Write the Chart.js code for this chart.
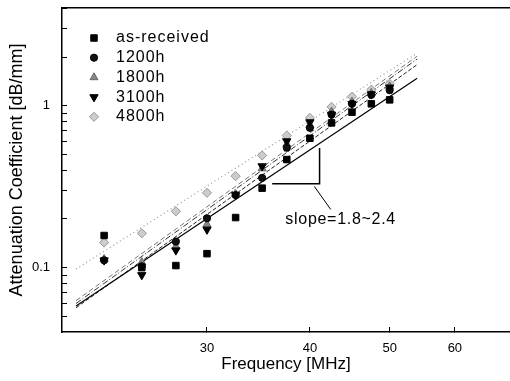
<!DOCTYPE html>
<html>
<head>
<title>Attenuation Coefficient vs Frequency</title>
<script src="https://cdn.jsdelivr.net/npm/chart.js"></script>
<style>
  body { margin: 0; background: #fff; }
</style>
</head>
<body>
<canvas id="chart" width="510" height="381"></canvas>
<script>
// measured frequencies [MHz]
const freq = [22.5, 25, 27.5, 30, 32.5, 35, 37.5, 40, 42.5, 45, 47.5, 50];

// attenuation coefficient [dB/mm] per ageing time
const asReceived = [0.158, 0.100, 0.103, 0.122, 0.204, 0.310, 0.466, 0.631, 0.785, 0.914, 1.03, 1.09];
const h1200 = [0.111, 0.102, 0.145, 0.202, 0.281, 0.359, 0.551, 0.732, 0.884, 1.03, 1.17, 1.25];
const h1800 = [0.113, 0.108, 0.135, 0.185, 0.285, 0.410, 0.580, 0.760, 0.920, 1.06, 1.20, 1.32];
const h3100 = [0.111, 0.090, 0.128, 0.172, 0.281, 0.424, 0.605, 0.793, 0.884, 1.03, 1.18, 1.30];
const h4800 = [0.143, 0.163, 0.223, 0.290, 0.368, 0.494, 0.656, 0.843, 0.986, 1.14, 1.26, 1.37];

// power-law fit lines (end points)
const fitX = [20.8, 54];
const fitAsReceived = [0.058, 1.48];
const fit1200 = [0.0565, 1.80];
const fit1800 = [0.0625, 2.03];
const fit3100 = [0.060, 1.95];
const fit4800 = [0.098, 2.12];

const seriesNames = ['as-received', '1200h', '1800h', '3100h', '4800h'];

// axis ticks
const xTicks = [30, 40, 50, 60];
const yTicks = [0.05, 0.06, 0.07, 0.08, 0.09, 0.1, 0.2, 0.3, 0.4, 0.5, 0.6, 0.7, 0.8, 0.9, 1, 2, 3, 4];
const yLabelled = [0.1, 1];

// slope annotation (data coordinates)
const slopeTriangle = [[36, 0.33], [41.1, 0.33], [41.1, 0.55]];
const slopePointer = [[40.5, 0.318], [42.4, 0.229]];
const slopeText = { x: 37.35, y: 0.198, text: 'slope=1.8~2.4' };

const pts = (ys) => freq.map((f, i) => ({ x: f, y: ys[i] }));
const fitPts = (ys) => fitX.map((f, i) => ({ x: f, y: ys[i] }));

const markers = [
  { style: 'rect', radius: 4.6, fill: '#000', border: '#000', rotation: 0 },
  { style: 'circle', radius: 3.6, fill: '#111', border: '#000', rotation: 0 },
  { style: 'triangle', radius: 4.6, fill: '#888', border: '#666', rotation: 0 },
  { style: 'triangle', radius: 4.8, fill: '#000', border: '#000', rotation: 180 },
  { style: 'rectRot', radius: 4.6, fill: '#ccc', border: '#999', rotation: 0 }
];

function scatterSet(name, ys, m, order) {
  return {
    type: 'scatter', label: name, data: pts(ys),
    pointStyle: m.style, pointRadius: m.radius, pointRotation: m.rotation,
    backgroundColor: m.fill, borderColor: m.border, borderWidth: 1, order: order
  };
}

function fitSet(ys, color, dash, width) {
  return {
    type: 'line', label: 'fit', data: fitPts(ys),
    borderColor: color, borderWidth: width, borderDash: dash,
    pointRadius: 0, fill: false, order: 10
  };
}

// no extra padding around the plot for tick labels
function noPad(s) {
  s.paddingTop = 0; s.paddingBottom = 0; s.paddingLeft = 0; s.paddingRight = 0;
}

// legend drawn inside the plot, top-left
const innerLegend = {
  id: 'innerLegend',
  afterDraw(chart) {
    const ctx = chart.ctx;
    const area = chart.chartArea;
    ctx.save();
    ctx.font = '16px "Liberation Sans", Arial, sans-serif';
    ctx.letterSpacing = '1px';
    ctx.textBaseline = 'middle';
    seriesNames.forEach((name, i) => {
      const y = area.top + 30 + i * 19.7;
      const m = markers[i];
      ctx.fillStyle = m.fill;
      ctx.strokeStyle = m.border;
      ctx.lineWidth = 1;
      Chart.helpers.drawPoint(ctx, { pointStyle: m.style, radius: m.radius, rotation: m.rotation, borderWidth: 1 }, area.left + 32, y);
      ctx.fillStyle = '#000';
      ctx.fillText(name, area.left + 54, y);
    });
    ctx.restore();
  }
};

// slope triangle + label
const slopeNote = {
  id: 'slopeNote',
  afterDatasetsDraw(chart) {
    const ctx = chart.ctx;
    const xs = chart.scales.x, ys = chart.scales.y;
    const px = p => [xs.getPixelForValue(p[0]), ys.getPixelForValue(p[1])];
    ctx.save();
    ctx.strokeStyle = '#000';
    ctx.lineWidth = 1.5;
    ctx.beginPath();
    slopeTriangle.forEach((p, i) => {
      const [x, y] = px(p);
      if (i === 0) ctx.moveTo(x, y); else ctx.lineTo(x, y);
    });
    ctx.stroke();
    ctx.lineWidth = 1;
    ctx.beginPath();
    const a = px(slopePointer[0]), b = px(slopePointer[1]);
    ctx.moveTo(a[0], a[1]);
    ctx.lineTo(b[0], b[1]);
    ctx.stroke();
    ctx.font = '16px "Liberation Sans", Arial, sans-serif';
    ctx.letterSpacing = '0.7px';
    ctx.textBaseline = 'middle';
    ctx.fillStyle = '#000';
    const t = px([slopeText.x, slopeText.y]);
    ctx.fillText(slopeText.text, t[0], t[1]);
    ctx.restore();
  }
};

Chart.defaults.font.family = '"Liberation Sans", Arial, sans-serif';
Chart.defaults.color = '#000';

const ctx = document.getElementById('chart').getContext('2d');
const chart = new Chart(ctx, {
  data: {
    datasets: [
      scatterSet(seriesNames[4], h4800, markers[4], 6),
      scatterSet(seriesNames[2], h1800, markers[2], 5),
      scatterSet(seriesNames[1], h1200, markers[1], 4),
      scatterSet(seriesNames[3], h3100, markers[3], 3),
      scatterSet(seriesNames[0], asReceived, markers[0], 2),
      fitSet(fitAsReceived, '#000', [], 1.2),
      fitSet(fit1200, '#222', [4, 2], 1),
      fitSet(fit1800, '#777', [5, 3], 1),
      fitSet(fit3100, '#333', [6, 2, 1, 2], 1),
      fitSet(fit4800, '#999', [1, 3], 1.2)
    ]
  },
  options: {
    responsive: false,
    animation: false,
    layout: { padding: 0, autoPadding: false },
    plugins: {
      legend: { display: false },
      tooltip: { enabled: false }
    },
    scales: {
      x: {
        type: 'logarithmic', position: 'bottom', min: 20, max: 70,
        afterBuildTicks: s => { s.ticks = xTicks.map(v => ({ value: v })); },
        afterFit: s => { s.height = 49; noPad(s); },
        ticks: { font: { size: 13 }, padding: 14, autoSkip: false, maxRotation: 0,
                 callback: v => String(v) },
        grid: { drawOnChartArea: false, tickLength: -5, color: '#000', tickWidth: 1 },
        border: { color: '#000', width: 1.5 },
        title: { display: true, text: 'Frequency [MHz]', font: { size: 17 }, padding: { top: 4, bottom: 6 } }
      },
      xTop: {
        type: 'logarithmic', position: 'top', min: 20, max: 70,
        afterFit: s => { s.height = 8; noPad(s); },
        ticks: { display: false },
        grid: { display: false },
        border: { display: true, color: '#000', width: 1.5 }
      },
      y: {
        type: 'logarithmic', position: 'left', min: 0.04, max: 4.03,
        afterBuildTicks: s => { s.ticks = yTicks.map(v => ({ value: v })); },
        afterFit: s => { s.width = 62; noPad(s); },
        ticks: { font: { size: 13 }, padding: 17, autoSkip: false,
                 callback: v => yLabelled.includes(v) ? String(v) : '' },
        grid: { drawOnChartArea: false, tickLength: -5, color: '#000', tickWidth: 1 },
        border: { color: '#000', width: 1.5 },
        title: { display: true, text: 'Attenuation Coefficient [dB/mm]', font: { size: 18 }, padding: { top: 6, bottom: 4 } }
      }
    }
  },
  plugins: [innerLegend, slopeNote]
});
</script>
</body>
</html>
